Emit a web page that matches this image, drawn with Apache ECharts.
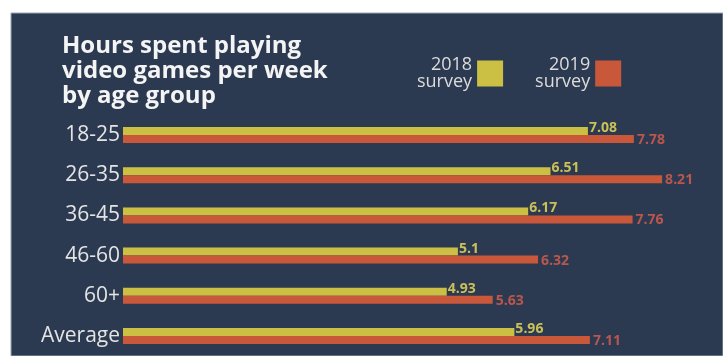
<!DOCTYPE html>
<html>
<head>
<meta charset="utf-8">
<script src="https://cdn.jsdelivr.net/npm/echarts@6/dist/echarts.min.js"></script>
<style>
  html, body { margin: 0; padding: 0; background: #ffffff; }
  #chart { width: 723px; height: 356px; }
</style>
</head>
<body>
<div id="chart"></div>
<script>
// Age groups and weekly gaming hours per survey year
const categories = ['18-25', '26-35', '36-45', '46-60', '60+', 'Average'];
const survey2018 = [7.08, 6.51, 6.17, 5.1, 4.93, 5.96];
const survey2019 = [7.78, 8.21, 7.76, 6.32, 5.63, 7.11];
const seriesNames = ['2018\nsurvey', '2019\nsurvey'];

const YELLOW = '#cbc044';
const RED = '#c9573a';
const PANEL = '#2c3a51';
const FONT = '"Open Sans", "Noto Sans", sans-serif';

const chart = echarts.init(document.getElementById('chart'), null, { renderer: 'canvas' });

chart.setOption({
  backgroundColor: '#ffffff',
  animation: false,
  graphic: [{
    type: 'rect',
    z: -10,
    shape: { x: 11, y: 13, width: 712, height: 343 },
    style: { fill: PANEL, stroke: '#9aa6b4', lineWidth: 1 }
  }],
  title: {
    text: 'Hours spent playing\nvideo games per week\nby age group',
    left: 62,
    top: 34,
    padding: 0,
    textStyle: {
      color: '#f4f4f4',
      fontFamily: FONT,
      fontWeight: 'bold',
      fontSize: 24,
      lineHeight: 25
    }
  },
  legend: {
    data: seriesNames,
    left: 417,
    top: 54,
    align: 'right',
    orient: 'horizontal',
    itemWidth: 26,
    itemHeight: 26,
    itemGap: 32,
    icon: 'rect',
    selectedMode: false,
    padding: 0,
    textStyle: {
      color: '#dcdcdc',
      fontFamily: FONT,
      fontSize: 18,
      lineHeight: 17,
      padding: [5, 0, 0, 0]
    }
  },
  grid: {
    left: 123,
    right: 9,
    top: 115,
    bottom: 0,
    containLabel: false
  },
  xAxis: {
    type: 'value',
    min: 0,
    max: 9,
    show: false
  },
  yAxis: {
    type: 'category',
    data: categories,
    inverse: true,
    axisLine: { show: false },
    axisTick: { show: false },
    axisLabel: {
      color: '#e4e4e4',
      fontFamily: FONT,
      fontSize: 21,
      margin: 3
    }
  },
  series: [
    {
      name: seriesNames[0],
      type: 'bar',
      data: survey2018,
      barWidth: 8,
      barGap: '0%',
      itemStyle: { color: YELLOW },
      label: {
        show: true,
        position: 'right',
        distance: 1,
        offset: [0, -3],
        color: '#c9c058',
        fontFamily: FONT,
        fontWeight: 'bold',
        fontSize: 14
      }
    },
    {
      name: seriesNames[1],
      type: 'bar',
      data: survey2019,
      barWidth: 8,
      itemStyle: { color: RED },
      label: {
        show: true,
        position: 'right',
        distance: 3,
        offset: [0, 1],
        color: '#b9574e',
        fontFamily: FONT,
        fontWeight: 'bold',
        fontSize: 14
      }
    }
  ]
});
</script>
</body>
</html>
